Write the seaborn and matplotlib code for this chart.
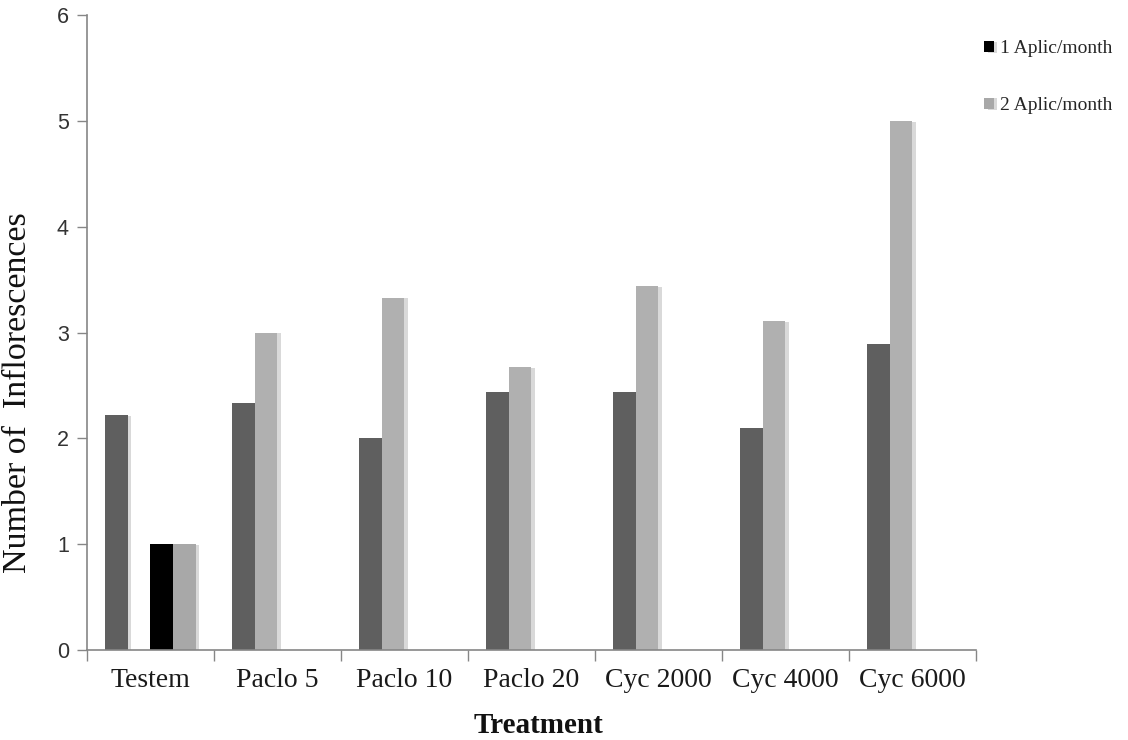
import numpy as np
import pandas as pd
import matplotlib
matplotlib.use("Agg")
import matplotlib.pyplot as plt
import matplotlib.patheffects as pe
import seaborn as sns
from matplotlib.ticker import FixedLocator, NullFormatter

# ---------------- data ------------------#
treatments = ["Testem", "Paclo 5", "Paclo 10", "Paclo 20", "Cyc 2000", "Cyc 4000", "Cyc 6000"]
series_names = ["s1", "s2", "1 Aplic/month", "2 Aplic/month"]
# dark grey series (first slot)
dark_vals = [2.22, 2.33, 2.0, 2.44, 2.44, 2.1, 2.89]
# light grey series (second slot)
light_vals = [np.nan, 3.0, 3.33, 2.67, 3.44, 3.11, 5.0]
# black series "1 Aplic/month"
aplic1_vals = [1.0, np.nan, np.nan, np.nan, np.nan, np.nan, np.nan]
# light grey series "2 Aplic/month"
aplic2_vals = [1.0, np.nan, np.nan, np.nan, np.nan, np.nan, np.nan]

colors = ["#5f5f5f", "#b0b0b0", "#000000", "#a8a8a8"]

df = pd.DataFrame({"Treatment": treatments * 4,
                   "series": np.repeat(series_names, len(treatments)),
                   "value": dark_vals + light_vals + aplic1_vals + aplic2_vals})
df = df.dropna()

# ---------------- plot ------------------#
sns.set_theme(style="white")
plt.rcParams["font.family"] = ["Liberation Serif", "DejaVu Serif"]

fig = plt.figure(figsize=(11.28, 7.40), dpi=100)
ax = fig.add_axes([0.0771, 0.1216, 0.788, 0.858])

sns.barplot(data=df, x="Treatment", y="value", hue="series",
            order=treatments, hue_order=series_names,
            palette=colors, dodge=True, width=0.71, gap=0,
            saturation=1, linewidth=0, ax=ax)

# soft shadow on the bars, like the excel original
for p in ax.patches:
    p.set_path_effects([pe.SimplePatchShadow(offset=(2.5, -0.5), shadow_rgbFace="#d9d9d9", alpha=1),
                        pe.Normal()])

ax.set_xlim(-0.5, len(treatments) - 0.5)
ax.set_ylim(0, 6)
ax.set_yticks(range(0, 7))

# y tick labels in sans
for lab in ax.get_yticklabels():
    lab.set_fontfamily("Liberation Sans")
    lab.set_fontsize(15.5)
    lab.set_color("#333333")

ax.tick_params(axis="y", which="major", direction="out", length=7, width=1,
               color="#868686", pad=6, left=True)
ax.tick_params(axis="x", which="major", length=0, labelsize=20, pad=13,
               labelcolor="#1a1a1a")
ax.xaxis.set_minor_locator(FixedLocator(np.arange(-0.5, len(treatments), 1.0)))
ax.xaxis.set_minor_formatter(NullFormatter())
ax.tick_params(axis="x", which="minor", direction="out", length=8, width=1,
               color="#868686", bottom=True)

for side in ["top", "right"]:
    ax.spines[side].set_visible(False)
for side in ["left", "bottom"]:
    ax.spines[side].set_color("#868686")
    ax.spines[side].set_linewidth(1.2)

ax.set_ylabel("Number of  Inflorescences", fontsize=24.5, color="#111111")
ax.yaxis.set_label_coords(-0.061, 0.405)
ax.set_xlabel("Treatment", fontsize=21, fontweight="bold", color="#111111")
ax.xaxis.set_label_coords(0.508, -0.097)

handles, labels = ax.get_legend_handles_labels()
ax.legend(handles[2:], labels[2:], loc="upper left",
          bbox_to_anchor=(0.8655, 0.956), bbox_transform=fig.transFigure,
          frameon=False, fontsize=14, handlelength=0.5, handleheight=0.5,
          handletextpad=0.3, labelspacing=2.05, borderaxespad=0)

fig.savefig("out.png", dpi=100)
